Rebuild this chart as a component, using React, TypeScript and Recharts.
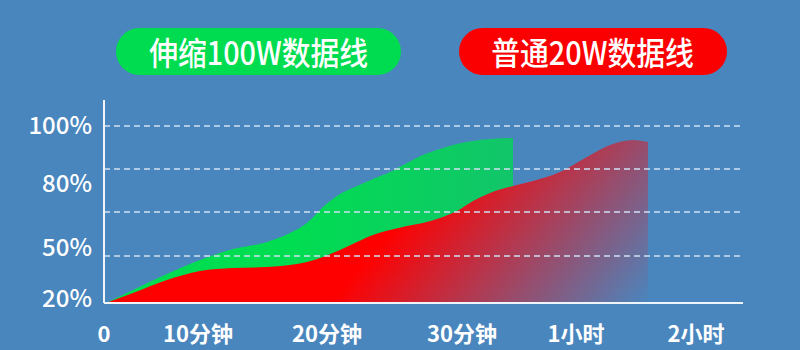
import { Area, ComposedChart, ReferenceLine, XAxis, YAxis } from 'recharts'

// horizontal position along the time axis (plot units, 0..639)
const timePos = [2, 29, 63, 96, 129, 163, 186, 203, 219, 236, 253, 269, 286, 303, 319, 336, 353, 369, 386, 409, 429, 456, 483, 506, 529, 544]
// charge level (plot units, 0..203)
const retractable100W = [0, 13, 29, 43, 54, 61, 70, 80, 96, 109, 117, 124, 131, 140, 148, 154, 159, 162, 164, 165, null, null, null, null, null, null]
const normal20W = [0, 10, 23, 32, 35, 36, 38, 41, 46, 53, 61, 68, 73, 77, 80, 85, 92, 102, 110, 117, 122, 131, 146, 158, 163, 161]

const xTickPos = [0, 94, 223, 358, 472, 592]
const xTickLabels = ['0', '10分钟', '20分钟', '30分钟', '1小时', '2小时']
const yTickPos = [5, 56, 120, 178]
const yTickLabels = ['20%', '50%', '80%', '100%']
const gridPos = [47, 91, 134, 177]

const seriesNames = ['伸缩100W数据线', '普通20W数据线']

const data = timePos.map((t, i) => ({ t, fast: retractable100W[i], normal: normal20W[i] }))

const BG = '#4a86be'
const FONT = '"Noto Sans CJK SC", "Noto Sans", sans-serif'

const pill = (left: number, width: number, color: string): React.CSSProperties => ({
  position: 'absolute',
  left,
  top: 28,
  width,
  height: 47,
  borderRadius: 24,
  background: color,
  display: 'flex',
  alignItems: 'center',
  justifyContent: 'center',
})

const pillText: React.CSSProperties = {
  color: '#fff',
  fontFamily: FONT,
  fontWeight: 500,
  fontSize: 32,
  lineHeight: '47px',
  whiteSpace: 'nowrap',
  transform: 'scaleX(0.9)',
}

export default function App() {
  const xTick = { fill: '#fff', fontSize: 22, fontWeight: 700, fontFamily: FONT }
  const yTick = { fill: '#fff', fontSize: 24, fontWeight: 500, fontFamily: FONT }
  return (
    <div style={{ position: 'absolute', left: 0, top: 0, width: 800, height: 350, background: BG, overflow: 'hidden' }}>
      <div style={pill(116, 285, '#00dc50')}><span style={pillText}>{seriesNames[0]}</span></div>
      <div style={pill(459, 268, '#fb0000')}><span style={pillText}>{seriesNames[1]}</span></div>
      <div style={{ position: 'absolute', left: 0, top: 0 }}>
        <ComposedChart width={800} height={350} data={data} margin={{ top: 100, right: 57, bottom: 0, left: 24 }}>
          <defs>
            <linearGradient id="redFade" x1={0.625} y1={0.158} x2={1.178} y2={0.298}>
              <stop offset="0" stopColor="#ff0000" />
              <stop offset="1" stopColor={BG} />
            </linearGradient>
            <linearGradient id="greenFill" x1={0} y1={0} x2={1} y2={0}>
              <stop offset="0.45" stopColor="#00dd50" />
              <stop offset="1" stopColor="#12c56a" />
            </linearGradient>
          </defs>
          <XAxis
            type="number"
            dataKey="t"
            domain={[0, 639]}
            ticks={xTickPos}
            interval={0}
            tickFormatter={(v: number) => xTickLabels[xTickPos.indexOf(v)]}
            height={47}
            tickSize={0}
            tickMargin={23}
            tick={xTick}
            axisLine={{ stroke: '#eef4fa', strokeWidth: 2 }}
          />
          <YAxis
            type="number"
            domain={[0, 203]}
            ticks={yTickPos}
            interval={0}
            tickFormatter={(v: number) => yTickLabels[yTickPos.indexOf(v)]}
            width={80}
            tickSize={0}
            tickMargin={12}
            tick={yTick}
            axisLine={{ stroke: '#eef4fa', strokeWidth: 2 }}
          />
          {gridPos.map((g) => (
            <ReferenceLine key={g} y={g} stroke="#cfe1f2" strokeDasharray="6 4" strokeWidth={1.5} />
          ))}
          <Area type="monotone" dataKey="fast" fill="url(#greenFill)" fillOpacity={1} stroke="none" isAnimationActive={false} />
          <Area type="monotone" dataKey="normal" fill="url(#redFade)" fillOpacity={1} stroke="none" isAnimationActive={false} />
        </ComposedChart>
      </div>
    </div>
  )
}
